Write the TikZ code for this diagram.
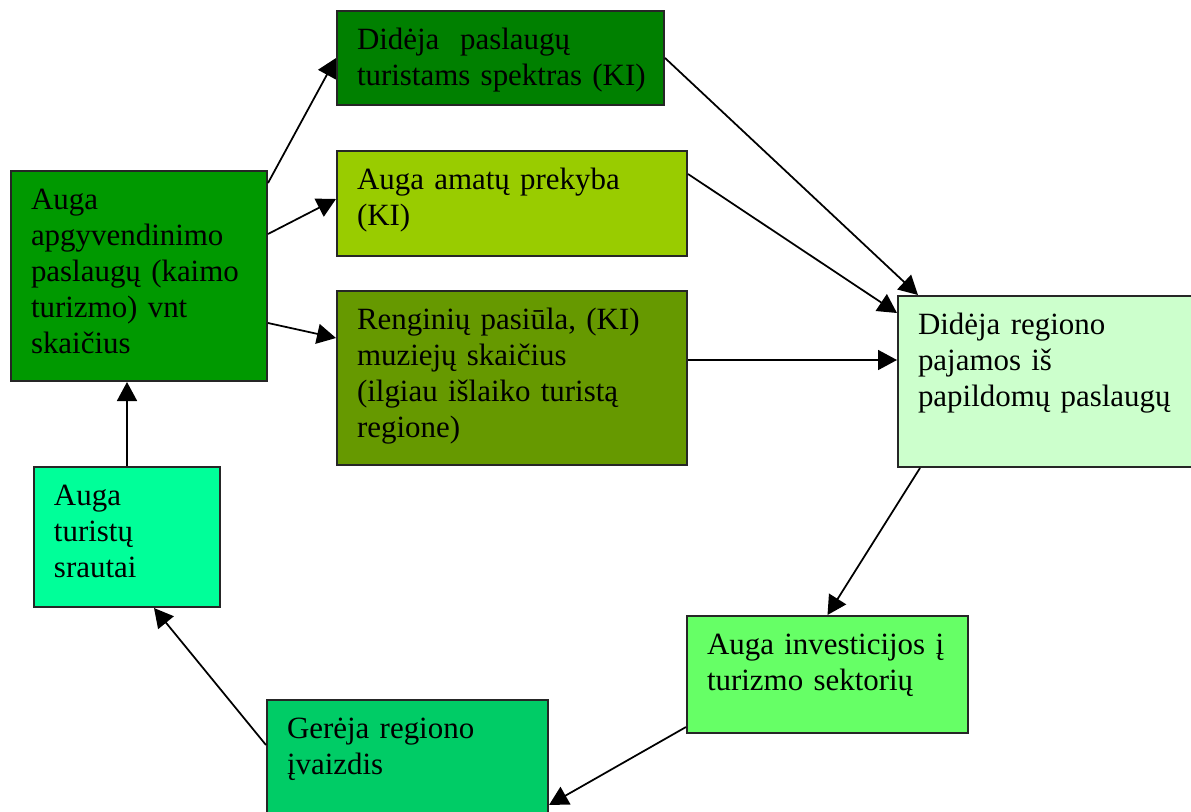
\documentclass[tikz,border=0pt]{standalone}
\usepackage{fontspec}
\setmainfont{Liberation Serif}
\usetikzlibrary{arrows.meta}

\definecolor{apgyvc}{HTML}{009900}
\definecolor{spektrasc}{HTML}{008000}
\definecolor{amataic}{HTML}{99CC00}
\definecolor{renginiaic}{HTML}{669900}
\definecolor{pajamosc}{HTML}{CCFFCC}
\definecolor{investc}{HTML}{66FF66}
\definecolor{ivaizdisc}{HTML}{00CC66}
\definecolor{srautaic}{HTML}{00FF99}

\tikzset{
    box/.style={draw=black!85, line width=0.04cm, anchor=north west, inner xsep=0.4cm, inner ysep=0cm,
                align=left, text height=0.76cm, font=\fontsize{17.6pt}{20.5pt}\selectfont},
    arr/.style={-{Triangle[length=0.38cm,width=0.4cm]}, line width=0.035cm},
}

\begin{document}
\begin{tikzpicture}[]
                \useasboundingbox (0cm,0cm) rectangle (23.82cm,-16.22cm);
                \clip (0cm,0cm) rectangle (23.82cm,-16.22cm);

                % draw the boxes
                \node[box, fill=apgyvc, text width=4.32cm, text depth=3.44cm] (apgyv) at (0.2cm,-3.4cm) {Auga\\apgyvendinimo\\paslaugų (kaimo\\turizmo) vnt\\skaičius};
                \node[box, fill=spektrasc, text width=5.74cm, text depth=1.12cm] (spektras) at (6.72cm,-0.2cm) {Didėja~~paslaugų\\\mbox{turistams spektras (KI)}};
                \node[box, fill=amataic, text width=6.2cm, text depth=1.34cm] (amatai) at (6.72cm,-3cm) {Auga amatų prekyba\\(KI)};
                \node[box, fill=renginiaic, text width=6.2cm, text depth=2.72cm] (renginiai) at (6.72cm,-5.8cm) {Renginių pasiūla, (KI)\\muziejų skaičius\\(ilgiau išlaiko turistą\\regione)};
                \node[box, fill=pajamosc, text width=5.3cm, text depth=2.66cm] (pajamos) at (17.94cm,-5.9cm) {Didėja regiono\\pajamos iš\\papildomų paslaugų};
                \node[box, fill=investc, text width=4.82cm, text depth=1.58cm] (invest) at (13.72cm,-12.3cm) {Auga investicijos į\\turizmo sektorių};
                \node[box, fill=ivaizdisc, text width=4.82cm, text depth=1.84cm] (ivaizdis) at (5.32cm,-13.98cm) {Gerėja regiono\\įvaizdis};
                \node[box, fill=srautaic, text width=2.92cm, text depth=2.04cm] (srautai) at (0.66cm,-9.32cm) {Auga\\turistų\\srautai};

                % draw the arrows
                \draw[arr] ([yshift=-0.26cm]apgyv.north east) -- (spektras.west);
                \draw[arr] ([yshift=0.84cm]apgyv.east) -- ([yshift=0.09cm]amatai.west);
                \draw[arr] ([yshift=-0.94cm]apgyv.east) -- ([yshift=0.8cm]renginiai.west);

                \draw[arr] (spektras.east) -- ([xshift=0.42cm]pajamos.north west);
                \draw[arr] ([yshift=0.59cm]amatai.east) -- ([yshift=-0.36cm]pajamos.north west);
                \draw[arr] ([yshift=0.36cm]renginiai.east) -- ([yshift=-1.3cm]pajamos.north west);

                \draw[arr] ([xshift=0.46cm]pajamos.south west) -- (invest.north);
                \draw[arr] ([yshift=0.14cm]invest.south west) -- ([yshift=-2.12cm]ivaizdis.north east);
                \draw[arr] ([yshift=-0.92cm]ivaizdis.north west) -- ([xshift=0.54cm]srautai.south);
                \draw[arr] (srautai.north) -- (srautai.north |- apgyv.south);

            \end{tikzpicture}
\end{document}
